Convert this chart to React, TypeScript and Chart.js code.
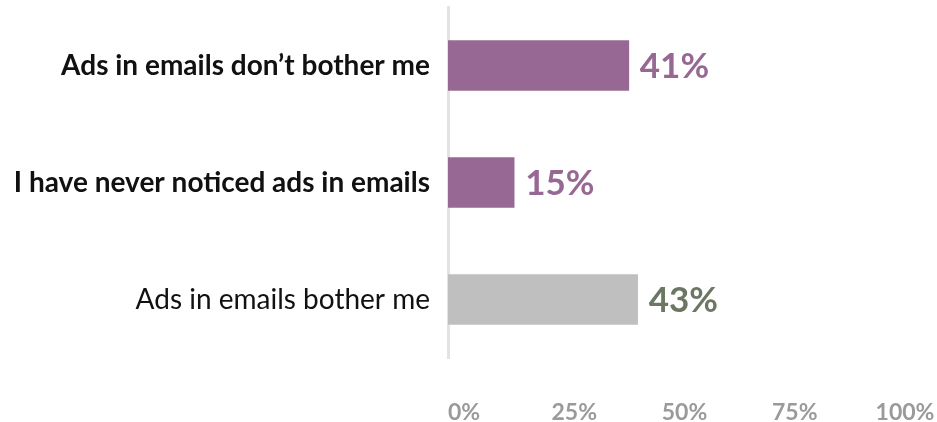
import React, { useEffect, useRef } from "react";
import { Chart, registerables } from "chart.js";

Chart.register(...registerables);

const categories = [
  "Ads in emails don’t bother me",
  "I have never noticed ads in emails",
  "Ads in emails bother me",
];
const values = [41, 15, 43];
const barColors = ["#976893", "#976893", "#bfbfbf"];
const valueLabelColors = ["#976893", "#976893", "#6b7762"];
const boldCategory = [true, true, false];
const tickLabels = ["0%", "25%", "50%", "75%", "100%"];

const FONT = "Lato, 'Noto Sans', sans-serif";

// Writes each bar's percentage just past its end.
const valueLabels = {
  id: "valueLabels",
  afterDatasetsDraw(chart: any) {
    const { ctx } = chart;
    const meta = chart.getDatasetMeta(0);
    ctx.save();
    ctx.font = `bold 35px ${FONT}`;
    ctx.textAlign = "left";
    ctx.textBaseline = "middle";
    meta.data.forEach((bar: any, i: number) => {
      ctx.fillStyle = valueLabelColors[i];
      ctx.fillText(`${values[i]}%`, bar.x + 11, bar.y + 1);
    });
    ctx.restore();
  },
};

export default function App() {
  const canvasRef = useRef<HTMLCanvasElement | null>(null);

  useEffect(() => {
    document.body.style.margin = "0";
    const canvas = canvasRef.current;
    if (!canvas) return;
    const chart = new Chart(canvas, {
      type: "bar",
      data: {
        labels: categories,
        datasets: [
          {
            data: values,
            backgroundColor: barColors,
            borderWidth: 0,
            barThickness: 50,
          },
        ],
      },
      options: {
        indexAxis: "y",
        responsive: false,
        animation: false,
        layout: { padding: { top: 7, right: 48, bottom: 0, left: 0 } },
        plugins: {
          legend: { display: false },
          tooltip: { enabled: false },
        },
        scales: {
          x: {
            min: 0,
            max: 100,
            grid: { display: false, drawTicks: false },
            border: { display: false },
            afterFit: (scale: any) => {
              scale.height = 64;
              scale.paddingLeft = 0;
              scale.paddingRight = 0;
            },
            ticks: {
              stepSize: 25,
              padding: 41,
              labelOffset: 16,
              color: "#9a9a9a",
              font: { family: FONT, size: 23, weight: "bold" },
              callback: (v: any) => tickLabels[Math.round(Number(v) / 25)],
            },
          },
          y: {
            grid: { display: false, drawTicks: false },
            border: { display: true, color: "#e3e3e3", width: 3 },
            afterFit: (scale: any) => {
              scale.width = 448;
              scale.paddingTop = 0;
              scale.paddingBottom = 0;
            },
            ticks: {
              padding: 18,
              color: "#111111",
              font: (ctx: any) => ({
                family: FONT,
                size: 28,
                weight: boldCategory[ctx.index] ? "bold" : "normal",
              }),
            },
          },
        },
      },
      plugins: [valueLabels],
    });
    return () => chart.destroy();
  }, []);

  return (
    <div style={{ width: 937, height: 422 }}>
      <canvas ref={canvasRef} width={937} height={422} style={{ display: "block" }} />
    </div>
  );
}
